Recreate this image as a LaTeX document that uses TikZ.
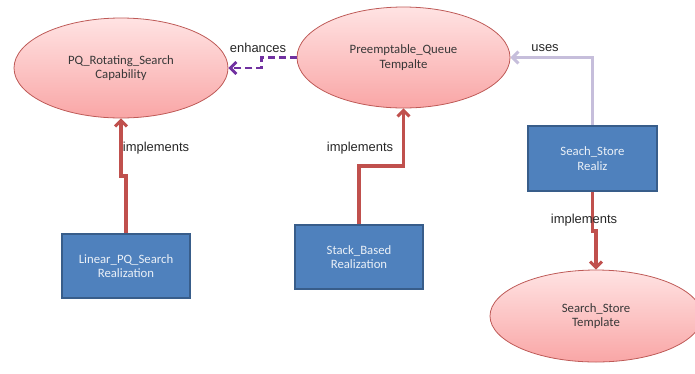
\documentclass[tikz,border=0pt]{standalone}
\usepackage{fontspec}
\setmainfont{Carlito}
\newfontfamily\labfont{Liberation Sans}
\usetikzlibrary{shapes.geometric,arrows.meta}
\definecolor{ellborder}{HTML}{BE5A57}
\definecolor{elltop}{HTML}{FFE3E3}
\definecolor{ellbot}{HTML}{F9A6A6}
\definecolor{boxfill}{HTML}{4F81BD}
\definecolor{boxborder}{HTML}{385D8A}
\definecolor{implred}{HTML}{C0504D}
\definecolor{usescol}{HTML}{C6BEDB}
\definecolor{enhcol}{HTML}{7030A0}
\definecolor{elltext}{HTML}{383838}
\tikzset{
  ell/.style={ellipse, draw=ellborder, line width=0.8pt, top color=elltop, bottom color=ellbot,
    inner sep=0pt, align=center, font=\fontsize{12.8}{14.5}\selectfont, text=elltext},
  realbox/.style={rectangle, draw=boxborder, line width=1.8pt, fill=boxfill, inner sep=0pt,
    align=center, font=\fontsize{12.8}{14.5}\selectfont, text=white!88!boxfill},
  impl/.style={draw=implred, line width=3.3pt, -{Straight Barb[length=6pt,width=12pt,line width=3pt]}},
  usesarrow/.style={draw=usescol, line width=3.3pt, -{Straight Barb[length=6pt,width=12pt,line width=3pt]}},
  enharrow/.style={draw=enhcol, line width=3pt, dash pattern=on 7pt off 4pt, -{Straight Barb[length=6pt,width=12pt,line width=2.8pt]}},
  lab/.style={font=\labfont\fontsize{13}{14}\selectfont, text=black!85, inner sep=0pt}
}
\begin{document}
\begin{tikzpicture}[x=1bp,y=-1bp]
\useasboundingbox (0,0) rectangle (695,373);
\node[ell, minimum width=214bp, minimum height=100bp] (pq) at (121,68) {PQ\_Rotating\_Search\\Capability};
\node[ell, minimum width=213bp, minimum height=101bp] (pre) at (403.5,57.5) {Preemptable\_Queue\\Tempalte};
\node[ell, minimum width=212bp, minimum height=92bp] (tpl) at (596,316) {Search\_Store\\Template};
\node[realbox, minimum width=128bp, minimum height=64bp] (lin) at (126,266) {Linear\_PQ\_Search\\Realization};
\node[realbox, minimum width=128bp, minimum height=64bp] (stk) at (359,257) {Stack\_Based\\Realization};
\node[realbox, minimum width=129bp, minimum height=65bp] (rea) at (592.5,158.5) {Seach\_Store\\Realiz};

\draw[impl] (lin.north) -- ++(0,-57) -| (pq.south);
\draw[impl] (stk.north) -- ++(0,-58) -| (pre.south);
\draw[impl] (rea.south) -- ++(0,39) -| (tpl.north);
\draw[usesarrow] (rea.north) |- (pre.east);
\draw[enharrow] (pre.west) -- ++(-35,0) |- (pq.east);

\node[lab] (l1) at (156,148) {implements};
\node[lab] (l2) at (360,148) {implements};
\node[lab] (l3) at (584,220) {implements};
\node[lab] (l4) at (258,48) {enhances};
\node[lab] (l5) at (545,48) {uses};
\end{tikzpicture}
\end{document}
